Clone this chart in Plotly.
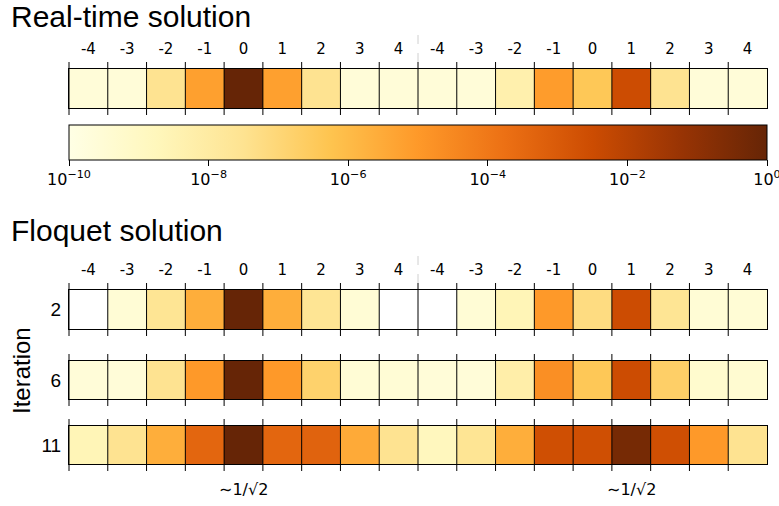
import plotly.graph_objects as go

# ---------------- data (log10 of occupation) ----------------
site_labels = [-4, -3, -2, -1, 0, 1, 2, 3, 4, -4, -3, -2, -1, 0, 1, 2, 3, 4]

real_time = [-9.6, -9.6, -7.5, -5.2, 0.0, -5.2, -7.5, -9.6, -9.6,
             -9.6, -9.6, -8.3, -5.1, -6.4, -2.5, -7.5, -9.6, -9.6]

floquet_iter_2 = [None, -9.5, -7.6, -5.6, 0.0, -5.6, -7.6, -9.5, None,
                  None, -9.5, -8.6, -5.0, -7.2, -2.5, -7.6, -9.5, -9.5]

floquet_iter_6 = [-9.6, -9.6, -7.5, -5.0, 0.0, -5.0, -6.8, -9.5, -9.5,
                  -9.6, -9.6, -8.2, -4.7, -6.4, -2.5, -6.7, -9.3, -9.4]

floquet_iter_11 = [-8.6, -7.5, -5.6, -3.4, 0.0, -3.4, -3.3, -5.5, -7.5,
                   -8.8, -7.6, -5.6, -2.6, -2.6, -0.4, -2.6, -5.0, -7.5]

iteration_labels = ["2", "6", "11"]
colorbar_ticks = [-10, -8, -6, -4, -2, 0]
colorbar_text = ["10<sup>−10</sup>", "10<sup>−8</sup>", "10<sup>−6</sup>",
                 "10<sup>−4</sup>", "10<sup>−2</sup>", "10<sup>0</sup>"]
marked_cells = [4, 14]          # cells annotated with ~1/sqrt(2)
marked_text = "∼1/√2"

# ---------------- geometry ----------------
W, H = 779, 506
X0, X1 = 69, 767
n = len(site_labels)
row_specs = [  # (values, row label, top px, bottom px, show site labels)
    (real_time, "", 69, 108, True),
    (floquet_iter_2, iteration_labels[0], 290, 329, True),
    (floquet_iter_6, iteration_labels[1], 361, 399, False),
    (floquet_iter_11, iteration_labels[2], 426, 464, False),
]

def fx(p):
    return p / W

def fy(p):
    return 1 - p / H

tick_font = dict(family="DejaVu Sans", size=15, color="black")

fig = go.Figure()
layout = {}
shapes = []
for i, (vals, rlabel, top, bot, show_lab) in enumerate(row_specs):
    sfx = "" if i == 0 else str(i + 1)
    xa, ya = "x" + sfx, "y" + sfx
    hm = dict(
        z=[vals], x=list(range(n)), y=[0], xaxis=xa, yaxis=ya,
        colorscale="YlOrBr", zmin=-10, zmax=0, showscale=(i == 0),
        hoverinfo="skip",
    )
    if i == 0:
        hm["colorbar"] = dict(
            orientation="h", x=fx(X0), xanchor="left", len=(X1 - X0) / W,
            lenmode="fraction", y=fy(125), yanchor="top", ypad=0, xpad=0,
            thickness=35, thicknessmode="pixels", outlinewidth=1,
            outlinecolor="black", tickmode="array", tickvals=colorbar_ticks,
            ticktext=colorbar_text, ticks="outside", ticklen=6,
            ticklabeloverflow="allow",
            tickcolor="black", tickfont=dict(family="DejaVu Sans", size=16, color="black"),
        )
    fig.add_trace(go.Heatmap(**hm))
    layout["xaxis" + sfx] = dict(
        domain=[fx(X0), fx(X1)], range=[-0.5, n - 0.5], anchor=ya, side="top",
        tickmode="array", tickvals=list(range(n)),
        ticktext=[str(v) for v in site_labels], showticklabels=show_lab,
        ticks="outside", ticklen=8, tickcolor="rgba(0,0,0,0)",
        tickfont=tick_font, showline=True, mirror=True, linecolor="black",
        linewidth=1, showgrid=False, zeroline=False,
    )
    layout["yaxis" + sfx] = dict(
        domain=[fy(bot), fy(top)], range=[-0.5, 0.5], anchor=xa,
        tickmode="array", tickvals=[0], ticktext=[rlabel],
        showticklabels=bool(rlabel), ticks="outside", ticklen=3,
        tickcolor="rgba(0,0,0,0)",
        tickfont=dict(family="Liberation Sans", size=19, color="black"),
        showline=True, mirror=True, linecolor="black", linewidth=1,
        showgrid=False, zeroline=False,
    )
    # cell boundaries (with tick extensions above and below)
    for k in range(n):
        xp = X0 + k * (X1 - X0) / n
        shapes.append(dict(type="line", xref="paper", yref="paper",
                           x0=fx(xp), x1=fx(xp), y0=fy(bot + 7), y1=fy(top - 7),
                           line=dict(color="black", width=1), layer="above"))

# dashed separators between the two groups of sites
xm = X0 + (n // 2) * (X1 - X0) / n
for (y_a, y_b) in [(28, 62), (251, 283)]:
    shapes.append(dict(type="line", xref="paper", yref="paper",
                       x0=fx(xm), x1=fx(xm), y0=fy(y_b), y1=fy(y_a),
                       line=dict(color="#d0d0d0", width=1, dash="dash")))

annotations = [
    dict(text="Real-time solution", x=fx(9), y=fy(-2), xref="paper", yref="paper",
         xanchor="left", yanchor="top", showarrow=False,
         font=dict(family="Liberation Sans", size=30, color="black")),
    dict(text="Floquet solution", x=fx(9), y=fy(230), xref="paper", yref="paper",
         xanchor="left", yanchor="middle", showarrow=False,
         font=dict(family="Liberation Sans", size=30, color="black")),
    dict(text="Iteration", x=fx(21), y=fy(371), xref="paper", yref="paper",
         xanchor="center", yanchor="middle", textangle=-90, showarrow=False,
         font=dict(family="Liberation Sans", size=24, color="black")),
]
for c in marked_cells:
    annotations.append(dict(text=marked_text, x=c, xref="x4", y=fy(489), yref="paper",
                            xanchor="center", yanchor="middle", showarrow=False,
                            font=dict(family="DejaVu Sans", size=16, color="black")))

fig.update_layout(
    width=W, height=H, margin=dict(l=0, r=0, t=0, b=0),
    paper_bgcolor="white", plot_bgcolor="white",
    font=dict(family="Liberation Sans", color="black"),
    shapes=shapes, annotations=annotations, showlegend=False,
    **layout,
)
fig.write_html("out.html")
